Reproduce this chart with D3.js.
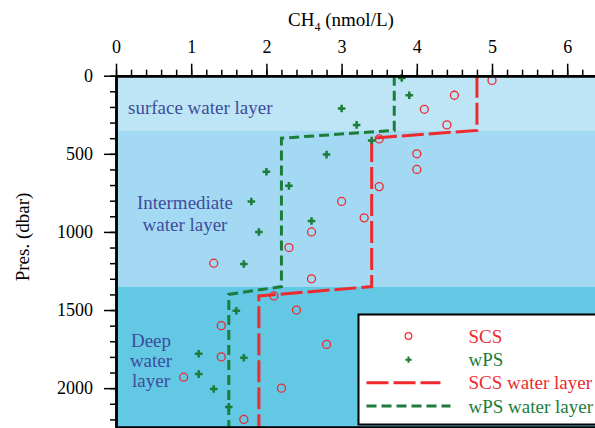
<!DOCTYPE html>
<html>
<head>
<meta charset="utf-8">
<script src="https://cdn.jsdelivr.net/npm/d3@7"></script>
<style>
  body { margin: 0; background: #fff; }
  svg, svg text { font-family: "Liberation Serif", "Times New Roman", Times, "DejaVu Serif", "Noto Serif", serif; }
</style>
</head>
<body>
<svg width="595" height="428"></svg>
<script>
// SCS samples (red circles)
var scsCH4  = [5.0, 4.5, 4.1, 4.4, 3.5, 4.0, 4.0, 3.5, 3.0, 3.3, 2.6, 2.3, 1.3, 2.6, 2.1, 2.4, 1.4, 2.8, 1.4, 0.9, 2.2, 1.7];
var scsPres = [30, 125, 215, 315, 405, 500, 600, 710, 805, 910, 1000, 1100, 1200, 1300, 1410, 1500, 1600, 1720, 1800, 1930, 2000, 2200];

// wPS samples (green plus)
var wpsCH4  = [3.8, 3.9, 3.0, 3.2, 3.4, 2.8, 2.0, 2.3, 1.8, 2.6, 1.9, 1.7, 1.6, 1.1, 1.7, 1.1, 1.3, 1.5];
var wpsPres = [15, 125, 210, 315, 415, 505, 615, 705, 805, 930, 1000, 1205, 1505, 1780, 1805, 1910, 2005, 2120];

// water layer mean profiles
var scsLayerCH4  = [4.8, 4.8, 3.4, 3.4, 1.9, 1.9];
var scsLayerPres = [0, 350, 400, 1350, 1410, 2250];
var wpsLayerCH4  = [3.7, 3.7, 2.2, 2.2, 1.5, 1.5];
var wpsLayerPres = [0, 350, 400, 1350, 1400, 2250];

// background bands
var bandNames = ["surface", "intermediate", "deep"];
var bandTop    = [0, 350, 1350];
var bandBottom = [350, 1350, 2250];

var xTicks = [0, 1, 2, 3, 4, 5, 6];
var yTicks = [0, 500, 1000, 1500, 2000];

var legendLabels = ["SCS", "wPS", "SCS water layer", "wPS water layer"];

/* set up */
var svg = d3.select("svg");
var serif = '"Liberation Serif", "Times New Roman", Times, "DejaVu Serif", serif';
var red = "#ee2a2f", green = "#1c7d3b", labelBlue = "#3f4c9c";
var bandColor = {surface: "#bee5f6", intermediate: "#a3d9f3", deep: "#62c8e4"};

var x = d3.scaleLinear().domain([0, 7]).range([116, 116 + 7 * 75.2]),
    y = d3.scaleLinear().domain([0, 2250]).range([75.7, 427.2]);

// bands
svg.selectAll(".band")
    .data(bandNames)
    .enter().append("rect")
    .attr("class", "band")
    .attr("x", x(0))
    .attr("width", x(7) - x(0))
    .attr("y", function(d, i) { return y(bandTop[i]); })
    .attr("height", function(d, i) { return y(bandBottom[i]) - y(bandTop[i]); })
    .attr("fill", function(d) { return bandColor[d]; });

// layer labels
var layerText = [
    {lines: ["surface water layer"], x: 128, y: 113.5, anchor: "start"},
    {lines: ["Intermediate", "water layer"], x: 185, y: 209, anchor: "middle"},
    {lines: ["Deep", "water", "layer"], x: 151, y: 346.5, anchor: "middle"}
];
layerText.forEach(function(t) {
    t.lines.forEach(function(s, i) {
        svg.append("text")
            .attr("x", t.x)
            .attr("y", t.y + i * (t.lines.length == 3 ? 20.3 : 22))
            .attr("text-anchor", t.anchor)
            .attr("fill", labelBlue)
            .style("font-family", serif)
            .style("font-size", "19px")
            .text(s);
    });
});

// layer lines
var line = d3.line()
    .x(function(d) { return x(d[0]); })
    .y(function(d) { return y(d[1]); });

svg.append("path")
    .attr("d", line(d3.zip(scsLayerCH4, scsLayerPres)))
    .attr("fill", "none")
    .attr("stroke", red)
    .attr("stroke-width", 3)
    .attr("stroke-dasharray", "22,5");

svg.append("path")
    .attr("d", line(d3.zip(wpsLayerCH4, wpsLayerPres)))
    .attr("fill", "none")
    .attr("stroke", green)
    .attr("stroke-width", 3)
    .attr("stroke-dasharray", "10,5");

// points
svg.selectAll(".scs")
    .data(d3.zip(scsCH4, scsPres))
    .enter().append("circle")
    .attr("class", "scs")
    .attr("cx", function(d) { return x(d[0]); })
    .attr("cy", function(d) { return y(d[1]); })
    .attr("r", 4)
    .attr("fill", "none")
    .attr("stroke", red)
    .attr("stroke-width", 1.3);

var cross = d3.symbol().type(d3.symbolCross).size(32);
svg.selectAll(".wps")
    .data(d3.zip(wpsCH4, wpsPres))
    .enter().append("path")
    .attr("class", "wps")
    .attr("transform", function(d) { return "translate(" + x(d[0]) + "," + y(d[1]) + ")"; })
    .attr("d", cross)
    .attr("fill", green);

// legend
var lg = svg.append("g").attr("transform", "translate(358.5,314.5)");
lg.append("rect")
    .attr("width", 260).attr("height", 110)
    .attr("fill", "#fff").attr("stroke", "#000").attr("stroke-width", 2);
var rowY = [21.5, 45.2, 68.2, 91.5];
lg.append("circle").attr("cx", 50).attr("cy", rowY[0]).attr("r", 3.3)
    .attr("fill", "none").attr("stroke", red).attr("stroke-width", 1.3);
lg.append("path").attr("transform", "translate(50," + rowY[1] + ")")
    .attr("d", d3.symbol().type(d3.symbolCross).size(22)).attr("fill", green);
lg.append("line").attr("x1", 8).attr("x2", 82).attr("y1", rowY[2]).attr("y2", rowY[2])
    .attr("stroke", red).attr("stroke-width", 3).attr("stroke-dasharray", "22,5");
lg.append("line").attr("x1", 8).attr("x2", 92).attr("y1", rowY[3]).attr("y2", rowY[3])
    .attr("stroke", green).attr("stroke-width", 3).attr("stroke-dasharray", "10,5");
lg.selectAll(".lgtext")
    .data(legendLabels)
    .enter().append("text")
    .attr("x", 110)
    .attr("y", function(d, i) { return rowY[i] + 6.5; })
    .attr("fill", function(d, i) { return i % 2 == 0 ? red : green; })
    .style("font-family", serif)
    .style("font-size", "19px")
    .text(function(d) { return d; });

/* axes */
function styleAxis(g) {
    g.attr("font-family", null);
    g.select(".domain").attr("stroke-width", 2.5);
    g.selectAll(".tick line").attr("stroke-width", 1.5);
    g.selectAll("text").style("font-family", serif).style("font-size", "18px").attr("fill", "#000");
}

svg.append("g")
    .attr("transform", "translate(0," + y(0) + ")")
    .call(d3.axisTop(x).tickValues(d3.range(0, 7.01, 0.2)).tickSize(6).tickFormat("").tickSizeOuter(0))
    .call(styleAxis);
svg.append("g")
    .attr("transform", "translate(0," + y(0) + ")")
    .call(d3.axisTop(x).tickValues(xTicks).tickFormat(d3.format("d")).tickSize(12).tickPadding(11).tickSizeOuter(0))
    .call(styleAxis);

svg.append("g")
    .attr("transform", "translate(" + x(0) + ",0)")
    .call(d3.axisLeft(y).tickValues(d3.range(0, 2201, 100)).tickSize(6).tickFormat("").tickSizeOuter(0))
    .call(styleAxis);
svg.append("g")
    .attr("transform", "translate(" + x(0) + ",0)")
    .call(d3.axisLeft(y).tickValues(yTicks).tickFormat(d3.format("d")).tickSize(12).tickPadding(11).tickSizeOuter(0))
    .call(styleAxis);

// bottom frame
svg.append("line")
    .attr("x1", x(0)).attr("x2", x(7)).attr("y1", y(2250)).attr("y2", y(2250))
    .attr("stroke", "#000").attr("stroke-width", 2);

// titles
var title = svg.append("text")
    .attr("x", 341).attr("y", 26)
    .attr("text-anchor", "middle")
    .style("font-family", serif)
    .style("font-size", "19px");
title.append("tspan").text("CH");
title.append("tspan").attr("dy", 5).style("font-size", "12px").text("4");
title.append("tspan").attr("dy", -5).text(" (nmol/L)");

svg.append("text")
    .attr("transform", "translate(29,237) rotate(-90)")
    .attr("text-anchor", "middle")
    .style("font-family", serif)
    .style("font-size", "19px")
    .text("Pres. (dbar)");
</script>
</body>
</html>
